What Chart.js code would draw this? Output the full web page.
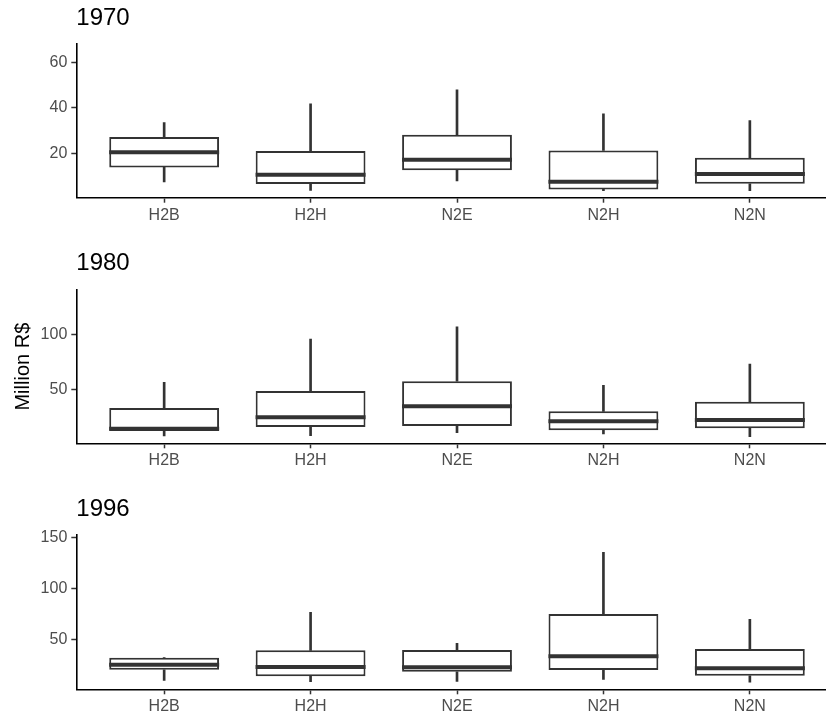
<!DOCTYPE html>
<html>
<head>
<meta charset="utf-8">
<script src="https://cdn.jsdelivr.net/npm/chart.js@4.4.1/dist/chart.umd.min.js"></script>
<style>
  html, body { margin: 0; padding: 0; background: #fff; }
  body { width: 826px; height: 717px; position: relative; overflow: hidden; }
  .panel { position: absolute; left: 0; width: 826px; }
</style>
</head>
<body>
<div class="panel" style="top:0px;height:240px"><canvas id="p1970"></canvas></div>
<div class="panel" style="top:240px;height:240px"><canvas id="p1980"></canvas></div>
<div class="panel" style="top:480px;height:237px"><canvas id="p1996"></canvas></div>
<script>
const categories = ['H2B', 'H2H', 'N2E', 'N2H', 'N2N'];

// box statistics per year: lower whisker, q1, median, q3, upper whisker
const min1970 = [7.4, 3.7, 7.8, 3.5, 3.5];
const q1_1970 = [13.8, 6.5, 12.5, 4.1, 6.6];
const med1970 = [20.5, 10.6, 17.2, 7.5, 10.9];
const q3_1970 = [27.2, 21.0, 28.2, 21.3, 18.1];
const max1970 = [33.5, 41.8, 48.0, 37.4, 34.4];

const min1980 = [7.5, 7.8, 10.5, 9.4, 6.9];
const q1_1980 = [12.1, 15.7, 16.6, 12.7, 14.5];
const med1980 = [14.2, 24.5, 34.5, 20.9, 22.1];
const q3_1980 = [33.0, 48.5, 57.3, 30.0, 38.7];
const max1980 = [56.4, 95.7, 106.9, 53.6, 73.0];

const min1996 = [9.8, 8.4, 8.8, 10.8, 8.1];
const q1_1996 = [20.2, 13.7, 18.2, 19.9, 14.3];
const med1996 = [25.1, 22.8, 22.5, 33.3, 21.6];
const q3_1996 = [32.0, 39.2, 39.5, 74.8, 40.5];
const max1996 = [32.0, 76.5, 46.0, 135.3, 69.6];

const ticks1970 = [20, 40, 60];
const ticks1980 = [50, 100];
const ticks1996 = [50, 100, 150];

const darkLine = '#333333';

function makePanel(id, year, mins, q1s, meds, q3s, maxs, yTicks, yMin, yMax, opts) {
    const xs = categories.map((c, i) => i + 1);
    const upper = xs.map((x, i) => ({ x: x, y: [q3s[i], maxs[i]] }));
    const lower = xs.map((x, i) => ({ x: x, y: [mins[i], q1s[i]] }));
    const boxes = xs.map((x, i) => ({ x: x, y: [q1s[i], q3s[i]] }));
    const medians = xs.map((x, i) => ({ x: x, y: meds[i] }));

    new Chart(document.getElementById(id), {
        type: 'bar',
        data: {
            datasets: [
                { data: upper, backgroundColor: darkLine, barThickness: 2, grouped: false, order: 3 },
                { data: lower, backgroundColor: darkLine, barThickness: 2, grouped: false, order: 3 },
                {
                    data: boxes, backgroundColor: '#ffffff', borderColor: darkLine, borderWidth: 2,
                    borderSkipped: false, barPercentage: 0.75, categoryPercentage: 1, grouped: false, order: 2
                },
                {
                    type: 'line', data: medians, showLine: false, pointStyle: 'line',
                    pointRadius: 55, pointHoverRadius: 55, borderColor: darkLine, pointBorderWidth: 4,
                    pointHoverBorderWidth: 4, order: 1
                }
            ]
        },
        options: {
            responsive: true,
            maintainAspectRatio: false,
            animation: false,
            events: [],
            layout: { autoPadding: false, padding: { top: 0, left: 0, right: 0, bottom: 0 } },
            plugins: {
                legend: { display: false },
                tooltip: { enabled: false },
                title: {
                    display: true,
                    text: year,
                    align: 'start',
                    fullSize: false,
                    color: '#000000',
                    font: { family: 'Liberation Sans', size: 24, weight: 'normal', lineHeight: 1.2 },
                    padding: { top: opts.titleTop, bottom: opts.titleBottom }
                }
            },
            scales: {
                x: {
                    type: 'linear',
                    min: 0.4,
                    max: 5.52,
                    offset: false,
                    afterBuildTicks: axis => { axis.ticks = xs.map(v => ({ value: v })); },
                    afterFit: axis => { axis.height = opts.xHeight; },
                    ticks: {
                        color: '#4d4d4d',
                        padding: 3,
                        maxRotation: 0,
                        autoSkip: false,
                        font: { family: 'Liberation Sans', size: 16 },
                        callback: v => categories[v - 1]
                    },
                    grid: {
                        display: true, offset: false, drawOnChartArea: false, drawTicks: true,
                        tickLength: 5, tickColor: darkLine, tickWidth: 1.5
                    },
                    border: { display: true, color: '#000000', width: 1.6 }
                },
                y: {
                    type: 'linear',
                    min: yMin,
                    max: yMax,
                    afterBuildTicks: axis => { axis.ticks = yTicks.map(v => ({ value: v })); },
                    afterFit: axis => { axis.width = 76.3; },
                    ticks: {
                        color: '#4d4d4d',
                        padding: 4,
                        font: { family: 'Liberation Sans', size: 16 }
                    },
                    grid: {
                        display: true, offset: false, drawOnChartArea: false, drawTicks: true,
                        tickLength: 5, tickColor: darkLine, tickWidth: 1.5
                    },
                    border: { display: true, color: '#000000', width: 1.6 },
                    title: {
                        display: opts.yTitle,
                        text: 'Million R$',
                        color: '#000000',
                        font: { family: 'Liberation Sans', size: 20, lineHeight: 1.2 },
                        padding: { top: 11, bottom: 0 }
                    }
                }
            }
        }
    });
}

makePanel('p1970', '1970', min1970, q1_1970, med1970, q3_1970, max1970, ticks1970, 0.44, 68.5,
    { titleTop: 4, titleBottom: 10.5, xHeight: 42.3, yTitle: false });
makePanel('p1980', '1980', min1980, q1_1980, med1980, q3_1980, max1980, ticks1980, 0.9, 140.3,
    { titleTop: 9, titleBottom: 12.2, xHeight: 36.7, yTitle: true });
makePanel('p1996', '1996', min1996, q1_1996, med1996, q3_1996, max1996, ticks1996, 1.0, 152.3,
    { titleTop: 15, titleBottom: 11.2, xHeight: 27.7, yTitle: false });
</script>
</body>
</html>
